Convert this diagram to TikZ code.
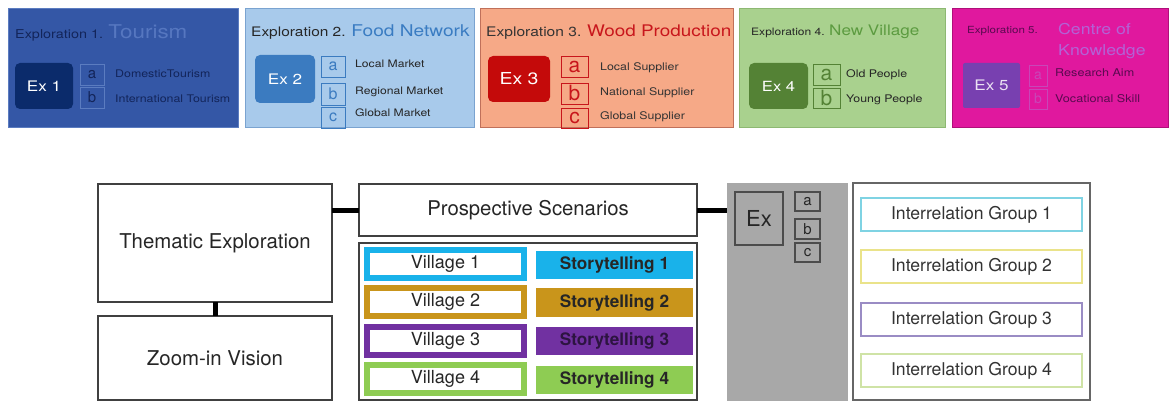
\documentclass[tikz,border=0pt]{standalone}
\usepackage{fontspec}
\setmainfont{TeX Gyre Heros}
\newfontfamily\wide[FakeStretch=1.18]{TeX Gyre Heros}
\definecolor{pa}{HTML}{3457A6}\definecolor{paB}{HTML}{5B7CC0}\definecolor{paE}{HTML}{0B2B6B}\definecolor{paD}{HTML}{13255A}\definecolor{paL}{HTML}{5677C0}
\definecolor{pb}{HTML}{A8CAEB}\definecolor{pbB}{HTML}{7AA3D0}\definecolor{pbE}{HTML}{3B7BC0}\definecolor{pbT}{HTML}{3A7CC2}
\definecolor{pc}{HTML}{F6A987}\definecolor{pcB}{HTML}{C0705A}\definecolor{pcE}{HTML}{C40A0A}\definecolor{pcT}{HTML}{C8161C}
\definecolor{pd}{HTML}{A9D18E}\definecolor{pdB}{HTML}{8DB872}\definecolor{pdE}{HTML}{548235}\definecolor{pdT}{HTML}{5C9B40}
\definecolor{pe}{HTML}{E0189E}\definecolor{peB}{HTML}{B0107A}\definecolor{peE}{HTML}{7840B0}\definecolor{peT}{HTML}{B362D6}\definecolor{peD}{HTML}{5A0A50}\definecolor{peS}{HTML}{C846B8}
\definecolor{vcyan}{HTML}{19B2EA}\definecolor{vgold}{HTML}{C9951B}\definecolor{vpurple}{HTML}{7131A1}\definecolor{vgreen}{HTML}{8ECC53}
\definecolor{igA}{HTML}{7FD3E3}\definecolor{igB}{HTML}{EAE38A}\definecolor{igC}{HTML}{9A8CC4}\definecolor{igD}{HTML}{CFE3A6}
\definecolor{grayc}{HTML}{A8A8A8}
\newcommand\bx[6]{\node[#5, minimum width={#3pt-#1pt}, minimum height={#4pt-#2pt}] at ({(#1+#3)/2},{(#2+#4)/2}) #6;}
\newcommand\fs[1]{\fontsize{#1}{#1}\selectfont}
\tikzset{
  base/.style={inner sep=0pt, outer sep=0pt, align=center},
  panel/.style={base, line width=0.8pt},
  exbox/.style={base, rounded corners=5pt, text=white, font=\wide\fs{14.5}},
  letterbox/.style={base, draw, line width=0.8pt},
  lbl/.style={inner sep=0pt, anchor=west, font=\wide\fs{10.5}},
  bigbox/.style={base, draw=black!75, line width=1.2pt, fill=white},
  vil/.style={base, line width=6pt, fill=white, font=\fs{18}, text=black!85},
  story/.style={base, font=\bfseries\fs{17.2}},
  igrp/.style={base, line width=1.3pt, fill=white, font=\fs{17.6}, text=black!80},
  conn/.style={line width=5pt, black}
}
\begin{document}
\begin{tikzpicture}[x=1pt,y=-1pt]
\useasboundingbox (0,0) rectangle (1174,401);
\fill[white] (0,0) rectangle (1174,401);
% ---------- Panel 1
\bx{8}{8}{238}{127}{panel, fill=pa, draw=paB}{(P1) {}}
\node[lbl] (T1) at (15,33) {{\wide\fs{12.2}\color{paD}Exploration 1. }{\wide\fs{19}\color{paL}Tourism}};
\bx{15}{63}{73}{109}{exbox, fill=paE}{(E1) {Ex 1}}
\bx{80}{64}{104}{85}{letterbox, draw=paB, text=paD, font=\fs{15}}{(a1) {a}}
\bx{80}{87}{104}{108}{letterbox, draw=paB, text=paD, font=\fs{15}}{(b1) {b}}
\node[lbl, text=paD] (l1a) at (115,74) {DomesticTourism};
\node[lbl, text=paD] (l1b) at (115,99) {International Tourism};
% ---------- Panel 2
\bx{245}{8}{474}{127}{panel, fill=pb, draw=pbB}{(P2) {}}
\node[lbl] (T2) at (251,32) {{\wide\fs{13.1}\color{black!85}Exploration 2. }{\wide\fs{16.2}\color{pbT}Food Network}};
\bx{255}{55}{315}{103}{exbox, fill=pbE}{(E2) {Ex 2}}
\bx{321}{56}{345}{77}{letterbox, draw=pbE, text=pbE, font=\fs{16}}{(a2) {a}}
\bx{321}{83}{345}{105}{letterbox, draw=pbE, text=pbE, font=\fs{16}}{(b2) {b}}
\bx{321}{107}{345}{128}{letterbox, draw=pbE, text=pbE, font=\fs{16}}{(c2) {c}}
\node[lbl, text=black!85, font=\wide\fs{10.3}] (l2a) at (355,64) {Local Market};
\node[lbl, text=black!85, font=\wide\fs{10.3}] (l2b) at (355,92) {Regional Market};
\node[lbl, text=black!85, font=\wide\fs{10.3}] (l2c) at (355,113) {Global Market};
% ---------- Panel 3
\bx{480}{8}{733}{127}{panel, fill=pc, draw=pcB}{(P3) {}}
\node[lbl] (T3) at (486,32) {{\wide\fs{13.2}\color{black!80}Exploration 3. }{\wide\fs{16}\color{pcT}Wood Production}};
\bx{488}{56}{550}{102}{exbox, fill=pcE, font=\wide\fs{16.5}}{(E3) {Ex 3}}
\bx{561}{56}{588}{77}{letterbox, draw=pcT, text=pcT, font=\fs{21}}{(a3) {a}}
\bx{561}{83}{588}{104}{letterbox, draw=pcT, text=pcT, font=\fs{21}}{(b3) {b}}
\bx{561}{108}{588}{128}{letterbox, draw=pcT, text=pcT, font=\fs{21}}{(c3) {c}}
\node[lbl, text=black!80] (l3a) at (600,68) {Local Supplier};
\node[lbl, text=black!80] (l3b) at (600,93) {National Supplier};
\node[lbl, text=black!80] (l3c) at (600,117) {Global Supplier};
% ---------- Panel 4
\bx{739}{8}{945}{127}{panel, fill=pd, draw=pdB}{(P4) {}}
\node[lbl] (T4) at (751,32) {{\wide\fs{10.2}\color{black!85}Exploration 4. }{\wide\fs{14.5}\color{pdT}New Village}};
\bx{749}{63}{808}{109}{exbox, fill=pdE, font=\wide\fs{14}}{(E4) {Ex 4}}
\bx{813}{64}{840}{85}{letterbox, draw=pdE, text=pdE, font=\fs{21}}{(a4) {a}}
\bx{813}{88}{840}{108}{letterbox, draw=pdE, text=pdE, font=\fs{21}}{(b4) {b}}
\node[lbl, text=black!85] (l4a) at (846,75) {Old People};
\node[lbl, text=black!85] (l4b) at (846,100) {Young People};
% ---------- Panel 5
\bx{952}{8}{1168}{127}{panel, fill=pe, draw=peB}{(P5) {}}
\node[lbl, text=peD, font=\wide\fs{9.8}] (T5) at (967,31) {Exploration 5.};
\node[inner sep=0pt, anchor=north west, align=left, text=peT, font=\wide\fs{15}] (T5b) at (1058,23) {Centre of\\[6pt]Knowledge};
\bx{963}{63}{1020}{108}{exbox, fill=peE, text=white!85!peE, rounded corners=2pt}{(E5) {Ex 5}}
\bx{1029}{65}{1047}{86}{letterbox, draw=peS, text=peS, font=\fs{14}}{(a5) {a}}
\bx{1029}{89}{1047}{109}{letterbox, draw=peS, text=peS, font=\fs{14}}{(b5) {b}}
\node[lbl, text=peD, font=\wide\fs{10.7}] (l5a) at (1055,73) {Research Aim};
\node[lbl, text=peD, font=\wide\fs{10.7}] (l5b) at (1055,99) {Vocational Skill};
% ---------- Bottom left
\bx{98}{184}{332}{302}{bigbox, font=\fs{20.4}, text=black!85}{(TE) {Thematic Exploration}}
\bx{98}{316}{332}{400}{bigbox, font=\fs{20.4}, text=black!85}{(ZV) {Zoom-in Vision}}
\bx{359}{184}{697}{236}{bigbox, font=\fs{20.3}, text=black!85}{(PS) {Prospective Scenarios}}
\bx{359}{243}{697}{400}{bigbox}{(SC) {}}
% villages
\bx{367}{250}{524}{278}{vil, draw=vcyan}{(V1) {Village 1}}
\bx{367}{288}{524}{316}{vil, draw=vgold}{(V2) {Village 2}}
\bx{367}{327}{524}{355}{vil, draw=vpurple}{(V3) {Village 3}}
\bx{367}{365}{524}{393}{vil, draw=vgreen}{(V4) {Village 4}}
\bx{536}{251}{693}{279}{story, fill=vcyan, text=black!85}{(S1) {Storytelling 1}}
\bx{536}{288}{693}{317}{story, fill=vgold, text=black!85}{(S2) {Storytelling 2}}
\bx{536}{327}{693}{355}{story, fill=vpurple, text=black!60!vpurple}{(S3) {Storytelling 3}}
\bx{536}{366}{693}{394}{story, fill=vgreen, text=black!85}{(S4) {Storytelling 4}}
% gray column
\bx{727}{183}{848}{401}{base, fill=grayc}{(GC) {}}
\bx{735}{192}{783}{245}{base, draw=black!70, line width=1.2pt, fill=grayc, font=\fs{22}, text=black!85}{(EX) {Ex}}
\bx{795}{192}{820}{211}{base, draw=black!70, line width=1.2pt, font=\fs{15}, text=black!85}{(xa) {a}}
\bx{795}{219}{820}{239}{base, draw=black!70, line width=1.2pt, font=\fs{15}, text=black!85}{(xb) {b}}
\bx{795}{243}{820}{262}{base, draw=black!70, line width=1.2pt, font=\fs{15}, text=black!85}{(xc) {c}}
% interrelation
\bx{853}{183}{1090}{400}{base, draw=black!60, line width=1.2pt, fill=white}{(IR) {}}
\bx{861}{198}{1082}{231}{igrp, draw=igA}{(G1) {Interrelation Group 1}}
\bx{861}{250}{1082}{283}{igrp, draw=igB}{(G2) {Interrelation Group 2}}
\bx{861}{303}{1082}{336}{igrp, draw=igC}{(G3) {Interrelation Group 3}}
\bx{861}{354}{1082}{387}{igrp, draw=igD}{(G4) {Interrelation Group 4}}
% connectors
\draw[conn] (TE.south) -- (ZV.north);
\draw[conn] (TE.east |- PS.west) -- (PS.west);
\draw[conn] (PS.east) -- (GC.west |- PS.east);
\end{tikzpicture}
\end{document}
